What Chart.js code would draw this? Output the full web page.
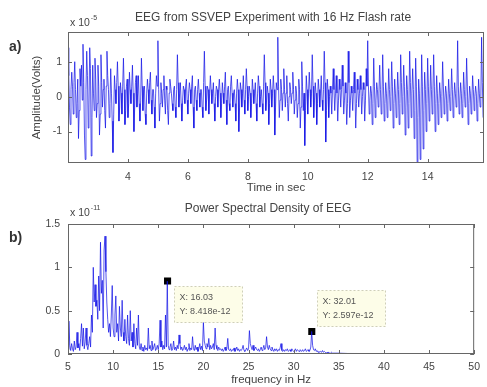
<!DOCTYPE html>
<html>
<head>
<meta charset="utf-8">
<script src="https://cdn.jsdelivr.net/npm/chart.js@4.4.1/dist/chart.umd.min.js"></script>
<style>
  html, body { margin: 0; padding: 0; background: #fff; }
  .panel { position: absolute; left: 0; width: 487px; }
  #wrapA { top: 0; height: 195px; }
  #wrapB { top: 195px; height: 192px; }
</style>
</head>
<body>
<div class="panel" id="wrapA"><canvas id="eegChart"></canvas></div>
<div class="panel" id="wrapB"><canvas id="psdChart"></canvas></div>
<script>
// --- panel a) EEG time series, amplitude in units of 1e-5 V, sampled every 0.025 s from 2 s
const eegStart = 2.0;
const eegStep = 0.025;
const eegAmp = [
  1.4, 0.6, -0.3, -0.8, 0.2, 0.7, 0.3, -0.5, 0.4, 1.0, 0.2, -0.6, -0.2, 0.5, -1.2, -0.4, 0.8, 0.3, 0.9, -0.1,
  1.5, 0.4, -1.1, -1.8, 0.2, 1.3, 0.6, -0.9, -0.3, 1.4, 0.8, -1.7, -0.6, 0.9, 0.1, -0.4, 1.1, 0.5, -0.6, -0.2,
  0.9, 0.3, -1.1, -0.5, 1.2, 0.4, -0.3, 0.2, 0.5, -0.4, -0.9, 0.3, 1.3, 0.6, 0.2, -0.6, -0.2, 0.8, 0.1, -0.7,
  -1.6, -0.5, 0.6, 0.2, -0.2, 0.4, 1.0, 0.3, -0.7, -0.3, 0.4, 0.1, -0.5, 0.3, 1.1, 0.2, -0.8, -0.4, 0.3, 0.5,
  -0.6, -0.2, 0.7, 0.2, -0.2, 0.3, 0.9, 0.1, -1.0, -0.3, 0.4, 0.6, -0.3, 0.1, 0.6, -0.2, -0.7, -0.1, 1.1, 0.3,
  -0.4, 0.2, 0.3, -0.5, -0.8, 0.1, 0.5, 0.2, -0.2, 0.4, 0.7, -0.1, -0.5, 0.2, 0.2, -0.3, -0.9, 0.1, 0.6, 0.3,
  1.6, 0.2, -0.7, -0.2, 0.4, 0.1, -0.3, 0.2, 0.6, -0.1, -0.5, 0.3, 0.2, -0.4, -0.8, 0.1, 0.5, 0.3, 0.1, -0.2,
  -0.4, 0.2, 0.3, -0.3, -0.6, 0.2, 1.2, 0.4, -0.3, 0.1, 0.4, -0.2, -0.7, -0.1, 0.3, 0.2, -0.2, 0.3, 0.5, -0.1,
  -0.5, 0.1, 0.4, 0.2, -0.2, 0.3, 0.6, -0.3, -0.9, 0.2, 0.3, -0.1, -0.4, 0.2, 0.5, 0.1, -0.3, 0.2, 0.2, -0.3,
  -0.6, 0.4, 1.3, 0.3, -0.4, -0.1, 0.3, 0.2, -0.5, 0.1, 0.6, 0.2, -0.2, 0.1, 0.4, -0.2, -0.7, 0.0, 0.3, 0.2,
  -0.3, 0.2, 0.5, 0.1, -0.6, -0.2, 0.4, 0.1, -0.2, 0.3, 0.7, -0.1, -0.8, 0.2, 0.3, -0.2, -0.4, 0.3, 0.6, 0.1,
  -0.3, 0.1, 0.2, -0.2, -0.7, 0.1, 0.5, 0.2, -1.0, -0.3, 0.4, 0.2, -0.3, 0.1, 0.6, -0.1, -0.5, 0.2, 0.8, 0.3,
  -0.4, 0.0, 0.3, 0.1, -0.6, -0.2, 0.5, 0.2, -0.2, 0.1, 0.4, -0.2, -0.7, 0.1, 0.6, 0.3, -0.3, 0.0, 0.2, -0.2,
  -0.5, 0.3, 1.2, 0.4, -0.4, -0.1, 0.3, 0.1, -0.8, -0.2, 0.5, 0.2, -0.3, 0.1, 0.6, 0.2, -1.1, -0.3, 0.4, 0.2,
  1.7, 0.3, -0.6, -0.1, 0.5, 0.2, -0.4, 0.1, 0.8, 0.2, -0.3, 0.1, 0.6, -0.2, -0.7, 0.0, 0.4, 0.2, -0.2, 0.1,
  0.7, 0.2, -0.5, -0.1, 0.3, 0.1, -0.6, -0.2, 0.5, 0.2, -0.9, -0.3, 1.0, 0.3, -0.4, 0.1, -1.4, -0.4, 0.6, 0.2,
  -0.5, 0.1, 0.7, 0.2, -0.3, 0.1, 1.2, 0.3, -0.6, -0.1, 0.4, 0.1, -0.8, -0.2, 0.5, 0.2, -0.3, 0.1, 0.6, -0.1,
  -0.4, 0.2, 1.3, 0.4, -1.3, -0.4, 0.5, 0.2, -0.6, 0.0, 0.3, 0.1, -0.5, 0.2, 0.8, 0.2, -0.4, 0.1, 0.6, 0.1,
  -0.7, -0.1, 0.5, 0.2, -0.3, 0.2, 0.9, 0.3, -0.5, -0.1, 0.4, 0.1, -0.8, -0.2, 1.3, 0.4, -0.6, -0.1, 0.3, 0.1,
  -0.4, 0.2, 0.7, 0.1, -0.9, -0.2, 0.5, 0.2, -0.3, 0.1, 0.6, 0.2, -0.5, 0.0, 0.4, 0.2, -0.7, -0.1, 0.8, 0.3,
  1.6, 0.3, -0.5, -0.1, 0.3, 0.1, -0.8, -0.2, 1.1, 0.3, -0.6, -0.1, 0.4, 0.2, -0.3, 0.1, 0.9, 0.2, -0.5, -0.1,
  1.2, 0.3, -0.7, -0.2, 0.4, 0.1, -0.6, -0.1, 0.8, 0.2, -0.4, 0.0, 1.0, 0.3, -0.9, -0.2, 0.5, 0.1, -0.6, -0.1,
  0.7, 0.2, -0.8, -0.2, 1.2, 0.4, -0.5, 0.0, 0.9, 0.3, -1.1, -0.3, 0.6, 0.2, -0.9, -0.2, 1.3, 0.4, -0.6, 0.1,
  0.8, 0.2, -1.2, -0.4, 1.1, 0.3, -1.9, -0.6, 0.5, 0.1, -1.8, -0.5, 1.2, 0.3, -1.5, -0.4, 0.7, 0.2, -1.0, -0.2,
  1.1, 0.3, -0.7, -0.1, 0.9, 0.2, -0.5, 0.1, 1.2, 0.3, -1.0, -0.2, 0.6, 0.1, -0.8, -0.2, 0.4, 0.1, -0.6, 0.0,
  1.0, 0.3, -0.5, -0.1, 0.3, 0.1, -0.7, -0.2, 0.5, 0.1, -0.4, 0.0, 0.8, 0.2, -0.6, -0.1, 0.4, 0.1, -0.3, 0.1,
  1.6, 0.3, -0.5, -0.1, 0.4, 0.1, -0.6, -0.2, 0.7, 0.2, -0.3, 0.0, 1.1, 0.3, -0.8, -0.2, 0.3, 0.1, -0.5, -0.1,
  0.6, 0.2, -0.4, 0.0, 0.3, 0.1, -0.7, -0.2, 0.5, 0.1, -0.3, 0.0, 1.7, 0.4, -0.6, -0.1
];
const timeTicks = [4, 6, 8, 10, 12, 14];
const ampTicks = [-1, 0, 1];

// --- panel b) PSD, units of 1e-11, every 0.1 Hz from 5 Hz, then a flat tail
const psdStart = 5.0;
const psdStep = 0.1;
const psdVal = [
  0.05, 0.38, 0.10, 0.04, 0.12, 0.06, 0.03, 0.15, 0.05, 0.08,
  0.25, 0.07, 0.12, 0.04, 0.18, 0.35, 0.09, 0.30, 0.06, 0.14,
  0.30, 0.10, 0.05, 0.12, 0.20, 0.08, 0.45, 0.25, 1.00, 0.60,
  0.80, 0.55, 0.62, 0.40, 0.90, 0.50, 1.29, 0.70, 0.85, 0.30,
  1.20, 1.36, 0.95, 0.60, 0.40, 0.25, 0.35, 0.20, 0.45, 0.79,
  0.30, 0.20, 0.45, 0.67, 0.25, 0.35, 0.15, 0.55, 0.30, 0.20,
  0.62, 0.25, 0.15, 0.40, 0.20, 0.12, 0.45, 0.18, 0.10, 0.50,
  0.15, 0.25, 0.08, 0.35, 0.12, 0.06, 0.30, 0.10, 0.45, 0.08,
  0.05, 0.12, 0.04, 0.08, 0.03, 0.10, 0.05, 0.07, 0.04, 0.30,
  0.06, 0.10, 0.04, 0.15, 0.05, 0.08, 0.12, 0.04, 0.06, 0.10,
  0.05, 0.12, 0.39, 0.08, 0.15, 0.05, 0.10, 0.06, 0.45, 0.08,
  0.84, 0.10, 0.05, 0.08, 0.12, 0.04, 0.06, 0.15, 0.05, 0.08,
  0.04, 0.10, 0.06, 0.22, 0.12, 0.05, 0.08, 0.04, 0.06, 0.10,
  0.05, 0.08, 0.03, 0.06, 0.12, 0.04, 0.07, 0.05, 0.20, 0.06,
  0.04, 0.10, 0.05, 0.08, 0.03, 0.06, 0.12, 0.05, 0.09, 0.04,
  0.37, 0.15, 0.10, 0.06, 0.12, 0.08, 0.18, 0.05, 0.10, 0.06,
  0.08, 0.12, 0.05, 0.30, 0.10, 0.06, 0.04, 0.08, 0.05, 0.06,
  0.04, 0.06, 0.03, 0.05, 0.08, 0.04, 0.06, 0.18, 0.05, 0.04,
  0.06, 0.03, 0.05, 0.04, 0.07, 0.03, 0.05, 0.08, 0.04, 0.06,
  0.03, 0.05, 0.04, 0.06, 0.10, 0.04, 0.03, 0.05, 0.07, 0.04,
  0.06, 0.27, 0.12, 0.08, 0.05, 0.10, 0.04, 0.06, 0.08, 0.05,
  0.04, 0.06, 0.03, 0.05, 0.08, 0.04, 0.06, 0.10, 0.05, 0.07,
  0.20, 0.08, 0.05, 0.10, 0.06, 0.04, 0.08, 0.05, 0.03, 0.06,
  0.04, 0.06, 0.03, 0.05, 0.04, 0.07, 0.12, 0.04, 0.03, 0.05,
  0.03, 0.05, 0.04, 0.06, 0.03, 0.04, 0.05, 0.03, 0.06, 0.04,
  0.03, 0.04, 0.06, 0.03, 0.05, 0.04, 0.03, 0.05, 0.04, 0.03,
  0.05, 0.03, 0.04, 0.06, 0.03, 0.04, 0.05, 0.03, 0.04, 0.08,
  0.26, 0.10, 0.05, 0.04, 0.06, 0.03, 0.04, 0.02, 0.03, 0.02,
  0.03, 0.02, 0.04, 0.02, 0.03, 0.02, 0.01, 0.02, 0.01, 0.02,
  0.01, 0.01, 0.02, 0.01, 0.01, 0.01, 0.01, 0.01, 0.01, 0.01
];
const psdTailHz = [36, 40, 45, 50];
const psdTailVal = [0.006, 0.005, 0.005, 0.005];
const freqTicks = [5, 10, 15, 20, 25, 30, 35, 40, 45, 50];
const psdTicks = [0, 0.5, 1, 1.5];

// data tips (real units)
const tipHz = [16.03, 32.01];
const tipPsd = [8.418e-12, 2.597e-12];

const eegPts = eegAmp.map((v, i) => ({ x: eegStart + i * eegStep, y: v }));
const psdPts = psdVal.map((v, i) => ({ x: psdStart + i * psdStep, y: v }))
  .concat(psdTailHz.map((f, i) => ({ x: f, y: psdTailVal[i] })));
const tipPts = tipHz.map((f, i) => ({ x: f, y: tipPsd[i] / 1e-11 }));

const FONT = "'Liberation Sans', Arial, sans-serif";
const TXT = '#444';
const LINE = 'rgba(20, 20, 230, 0.72)';

// matlab-ish box, inward ticks and labels around the axes
const frame = {
  id: 'frame',
  afterDatasetsDraw(chart, args, o) {
    const { ctx, chartArea: a, scales } = chart;
    ctx.save();
    ctx.strokeStyle = '#666';
    ctx.lineWidth = 1;
    ctx.strokeRect(a.left + 0.5, a.top + 0.5, a.right - a.left - 1, a.bottom - a.top - 1);
    ctx.beginPath();
    scales.x.ticks.forEach(t => {
      const px = Math.round(scales.x.getPixelForValue(t.value)) + 0.5;
      ctx.moveTo(px, a.bottom); ctx.lineTo(px, a.bottom - 4);
      ctx.moveTo(px, a.top); ctx.lineTo(px, a.top + 4);
    });
    scales.y.ticks.forEach(t => {
      const py = Math.round(scales.y.getPixelForValue(t.value)) + 0.5;
      ctx.moveTo(a.left, py); ctx.lineTo(a.left + 4, py);
      ctx.moveTo(a.right, py); ctx.lineTo(a.right - 4, py);
    });
    ctx.stroke();

    ctx.fillStyle = TXT;
    ctx.textAlign = 'center';
    ctx.textBaseline = 'middle';
    ctx.font = '12px ' + FONT;
    ctx.fillText(o.title, (a.left + a.right) / 2 - 3, o.titleY);

    // exponent label
    ctx.textAlign = 'left';
    ctx.font = '10.5px ' + FONT;
    ctx.fillText('x 10', a.left + 2, o.expY);
    const w = ctx.measureText('x 10').width;
    ctx.font = '7px ' + FONT;
    ctx.fillText(o.expo, a.left + 2 + w + 1, o.expY - 5);

    // panel letter
    ctx.fillStyle = '#333';
    ctx.font = 'bold 14px ' + FONT;
    ctx.fillText(o.panel, 9, o.panelY);
    ctx.restore();
  }
};

const tips = {
  id: 'tips',
  afterDatasetsDraw(chart, args, o) {
    if (!o.offsets) return;
    const { ctx } = chart;
    const meta = chart.getDatasetMeta(1);
    ctx.save();
    meta.data.forEach((pt, i) => {
      const bx = Math.round(pt.x + o.offsets[i][0]) + 0.5;
      const by = Math.round(pt.y + o.offsets[i][1]) + 0.5;
      const bw = 68, bh = 36;
      ctx.fillStyle = '#fdfde8';
      ctx.fillRect(bx, by, bw, bh);
      ctx.setLineDash([2, 2]);
      ctx.strokeStyle = '#cfcfb8';
      ctx.strokeRect(bx, by, bw, bh);
      ctx.setLineDash([]);
      ctx.fillStyle = '#555';
      ctx.font = '9px ' + FONT;
      ctx.textAlign = 'left';
      ctx.textBaseline = 'middle';
      ctx.fillText('X: ' + tipHz[i].toFixed(2), bx + 5, by + 11);
      ctx.fillText('Y: ' + tipPsd[i].toExponential(3), bx + 5, by + 25);
    });
    ctx.restore();
  }
};

function axisX(min, max, tickVals, title, pad, h) {
  return {
    type: 'linear', min, max,
    afterBuildTicks: s => { s.ticks = tickVals.map(v => ({ value: v })); },
    afterFit: s => { s.height = h; },
    grid: { display: false, drawTicks: false },
    border: { display: false },
    ticks: { padding: pad, color: TXT, font: { family: FONT, size: 10.5 }, maxRotation: 0, autoSkip: false, callback: v => String(v) },
    title: { display: true, text: title, color: TXT, font: { family: FONT, size: 11.5 }, padding: { top: 0, bottom: 0 } }
  };
}
function axisY(min, max, tickVals, pad, title) {
  return {
    type: 'linear', min, max,
    afterBuildTicks: s => { s.ticks = tickVals.map(v => ({ value: v })); },
    afterFit: s => { s.width = 38; },
    grid: { display: false, drawTicks: false },
    border: { display: false },
    ticks: { padding: pad, color: TXT, font: { family: FONT, size: 10.5 }, autoSkip: false, callback: v => String(v) },
    title: { display: !!title, text: title || '', color: TXT, font: { family: FONT, size: 11.5 }, padding: { top: 0, bottom: 0 } }
  };
}

new Chart(document.getElementById('eegChart'), {
  type: 'line',
  data: {
    datasets: [{
      data: eegPts,
      borderColor: LINE,
      borderWidth: 1,
      pointRadius: 0,
      tension: 0
    }]
  },
  options: {
    responsive: true,
    maintainAspectRatio: false,
    animation: false,
    layout: { padding: { top: 32, right: 3, left: 30, bottom: 0 } },
    scales: {
      x: axisX(2.0, 15.88, timeTicks, 'Time in sec', 8, 32),
      y: axisY(-1.9, 1.85, ampTicks, 6, 'Amplitude(Volts)')
    },
    plugins: {
      legend: { display: false },
      tooltip: { enabled: false },
      frame: { title: 'EEG from SSVEP Experiment with 16 Hz Flash rate', titleY: 18, expY: 23, expo: '-5', panel: 'a)', panelY: 47 }
    }
  },
  plugins: [frame]
});

new Chart(document.getElementById('psdChart'), {
  type: 'line',
  data: {
    datasets: [{
      data: psdPts,
      borderColor: LINE,
      borderWidth: 1,
      pointRadius: 0,
      tension: 0
    }, {
      data: tipPts,
      showLine: false,
      pointStyle: 'rect',
      pointRadius: 5,
      backgroundColor: '#000',
      borderColor: '#000',
      borderWidth: 0
    }]
  },
  options: {
    responsive: true,
    maintainAspectRatio: false,
    animation: false,
    layout: { padding: { top: 29, right: 3, left: 30, bottom: 0 } },
    scales: {
      x: axisX(5, 50, freqTicks, 'frequency in Hz', 7, 33),
      y: axisY(0, 1.5, psdTicks, 8)
    },
    plugins: {
      legend: { display: false },
      tooltip: { enabled: false },
      frame: { title: 'Power Spectral Density of EEG', titleY: 14, expY: 18, expo: '-11', panel: 'b)', panelY: 43 },
      tips: { offsets: [[6, 5], [5, -41]] }
    }
  },
  plugins: [frame, tips]
});
</script>
</body>
</html>
